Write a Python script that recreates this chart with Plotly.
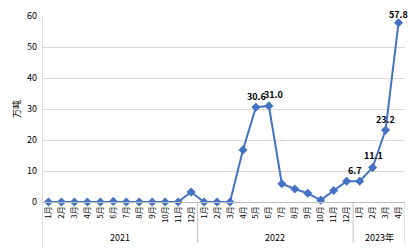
import plotly.graph_objects as go

months = ["1月","2月","3月","4月","5月","6月","7月","8月","9月","10月","11月","12月",
          "1月","2月","3月","4月","5月","6月","7月","8月","9月","10月","11月","12月",
          "1月","2月","3月","4月"]
years = ["2021", "2022", "2023年"]
year_counts = [12, 12, 4]
values = [0, 0, 0, 0, 0, 0.2, 0, 0, 0, 0, 0, 3.2,
          0, 0, 0, 16.8, 30.6, 31.0, 5.9, 4.2, 2.8, 0.6, 3.7, 6.7,
          6.7, 11.1, 23.2, 57.8]
label_idx = [16, 17, 24, 25, 26, 27]
label_text = ["30.6", "31.0", "6.7", "11.1", "23.2", "57.8"]
label_shift = [(1, 11), (5, 11), (-5, 11), (1, 12), (0, 11), (0, 8)]

x = list(range(len(values)))
color = "#4472C4"

fig = go.Figure()
fig.add_trace(go.Scatter(
    x=x, y=values, mode="lines+markers",
    line=dict(color=color, width=2),
    marker=dict(symbol="diamond", size=7, color=color),
    cliponaxis=False, hoverinfo="skip"))

for i, t, (dx, dy) in zip(label_idx, label_text, label_shift):
    fig.add_annotation(x=i, y=values[i], text="<b>%s</b>" % t, showarrow=False,
                       xshift=dx, yshift=dy, font=dict(size=9, color="#000000"))

# year labels and separators
start = 0
for yname, n in zip(years, year_counts):
    mid = start + (n - 1) / 2
    fig.add_annotation(x=mid, y=0, xref="x", yref="paper", text=yname, showarrow=False,
                       yshift=-35, font=dict(size=9, color="#000000"), yanchor="middle")
    start += n
bounds = [-0.5]
s = -0.5
for n in year_counts:
    s += n
    bounds.append(s)
for b in bounds[1:]:
    fig.add_shape(type="line", x0=b, x1=b, xref="x", yref="paper", y0=0, y1=-0.22,
                  line=dict(color="#BFBFBF", width=1))
fig.add_shape(type="line", x0=-0.5, x1=-0.5, xref="x", yref="paper", y0=1, y1=-0.25,
              line=dict(color="#BFBFBF", width=1))

fig.update_layout(
    width=415, height=249, margin=dict(l=42, r=10, t=9, b=47),
    paper_bgcolor="white", plot_bgcolor="white", showlegend=False,
    font=dict(family="Noto Sans CJK SC, DejaVu Sans", size=9, color="#000000"),
    xaxis=dict(range=[-0.5, len(values) - 0.5], tickmode="array", tickvals=x,
               ticktext=months, tickangle=-90, tickfont=dict(size=8),
               showgrid=False, showline=True, linecolor="#BFBFBF", linewidth=1,
               ticks="", zeroline=False),
    yaxis=dict(range=[0, 60], dtick=10, showgrid=True, gridcolor="#D9D9D9",
               gridwidth=1, zeroline=False, showline=False, ticks="",
               tickfont=dict(size=9), ticksuffix="  ",
               title=dict(text="万吨", font=dict(size=9), standoff=4)),
)
fig.write_html("out.html")
